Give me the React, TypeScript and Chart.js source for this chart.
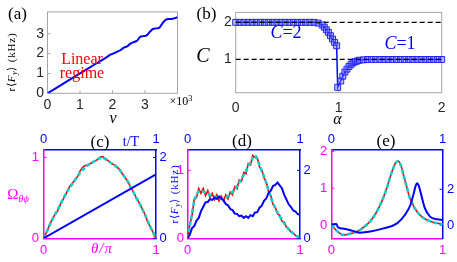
import React, { useEffect, useRef } from 'react';
import { Chart, registerables } from 'chart.js';

Chart.register(...registerables);

// ---------- data ----------
// (a) r<F_y> (kHz) vs nu (x10^3)
const aNu = [0, 0.5, 1.0, 1.5, 1.8, 1.95, 2.05, 2.15, 2.25, 2.35, 2.45, 2.55, 2.65, 2.75, 2.85, 2.95, 3.05, 3.15, 3.25, 3.35, 3.45, 3.55, 3.65, 3.75, 3.85, 3.95, 4.0];
const aF = [0, 0.5, 1.0, 1.5, 1.8, 1.96, 2.02, 2.1, 2.18, 2.3, 2.36, 2.5, 2.58, 2.64, 2.84, 2.88, 2.92, 3.1, 3.24, 3.27, 3.32, 3.55, 3.72, 3.74, 3.76, 3.8, 3.84];
const aXTicks = [0, 1, 2, 3];
const aYTicks = [0, 1, 2, 3];

// (b) Chern number C vs alpha
const bAlpha = [0, 0.04, 0.08, 0.12, 0.16, 0.2, 0.24, 0.28, 0.32, 0.36, 0.4, 0.44, 0.48, 0.52, 0.56, 0.6, 0.64, 0.68, 0.72, 0.76, 0.8, 0.84, 0.86, 0.88, 0.9, 0.92, 0.94, 0.96, 0.98, 0.99, 1.02, 1.04, 1.06, 1.08, 1.1, 1.12, 1.14, 1.16, 1.18, 1.2, 1.24, 1.28, 1.32, 1.36, 1.4, 1.44, 1.48, 1.52, 1.56, 1.6, 1.64, 1.68, 1.72, 1.76, 1.8, 1.84, 1.88, 1.92, 1.96, 2];
const bC = [2, 2, 2, 2, 2, 2, 2, 2, 2, 2, 2, 2, 2, 2, 2, 2, 2, 2, 2, 2, 1.98, 1.93, 1.87, 1.8, 1.73, 1.64, 1.55, 1.46, 1.37, 0.25, 0.42, 0.55, 0.66, 0.74, 0.81, 0.87, 0.91, 0.94, 0.96, 0.98, 0.99, 1, 1, 1, 1, 1, 1, 1, 1, 1, 1, 1, 1, 1, 1, 1, 1, 1, 1, 1];
const bRefLevels = [2, 1];
const bXTicks = [0, 1, 2];
const bYTicks = [1, 2];

// (c)
const cTheta = [0, 0.025, 0.05, 0.075, 0.1, 0.125, 0.15, 0.175, 0.2, 0.225, 0.25, 0.275, 0.3, 0.325, 0.35, 0.375, 0.4, 0.425, 0.45, 0.475, 0.5, 0.525, 0.55, 0.575, 0.6, 0.625, 0.65, 0.675, 0.7, 0.725, 0.75, 0.775, 0.8, 0.825, 0.85, 0.875, 0.9, 0.925, 0.95, 0.975, 1];
const cRed = [0, 0.07, 0.15, 0.23, 0.29, 0.34, 0.42, 0.48, 0.55, 0.62, 0.67, 0.71, 0.76, 0.83, 0.88, 0.9, 0.91, 0.93, 0.95, 0.97, 1.0, 1.01, 0.98, 0.96, 0.93, 0.91, 0.89, 0.85, 0.8, 0.75, 0.7, 0.63, 0.57, 0.5, 0.44, 0.37, 0.3, 0.21, 0.14, 0.07, 0];
const cCyan = [0, 0.07, 0.15, 0.22, 0.29, 0.35, 0.42, 0.49, 0.55, 0.61, 0.66, 0.71, 0.76, 0.81, 0.85, 0.88, 0.91, 0.93, 0.95, 0.97, 0.99, 1.0, 0.98, 0.96, 0.93, 0.91, 0.88, 0.85, 0.8, 0.75, 0.7, 0.63, 0.57, 0.5, 0.44, 0.37, 0.3, 0.22, 0.14, 0.07, 0];
const cT = [0, 1];
const cBlue = [0, 1.58];

// (d)
const dX = [0, 0.02, 0.04, 0.06, 0.08, 0.1, 0.12, 0.14, 0.16, 0.18, 0.2, 0.22, 0.24, 0.26, 0.28, 0.3, 0.32, 0.34, 0.36, 0.38, 0.4, 0.42, 0.44, 0.46, 0.48, 0.5, 0.52, 0.54, 0.56, 0.58, 0.6, 0.62, 0.64, 0.66, 0.68, 0.7, 0.72, 0.74, 0.76, 0.78, 0.8, 0.82, 0.84, 0.86, 0.88, 0.9, 0.92, 0.94, 0.96, 0.98, 1];
const dCyan = [0, 0.18, 0.37, 0.54, 0.64, 0.69, 0.7, 0.69, 0.67, 0.66, 0.64, 0.62, 0.61, 0.6, 0.59, 0.58, 0.59, 0.6, 0.62, 0.64, 0.68, 0.72, 0.77, 0.82, 0.88, 0.93, 0.99, 1.06, 1.12, 1.18, 1.22, 1.16, 1.08, 0.99, 0.91, 0.81, 0.71, 0.61, 0.52, 0.44, 0.38, 0.32, 0.27, 0.22, 0.17, 0.13, 0.1, 0.07, 0.05, 0.02, 0];
const dRed = [0, 0.2, 0.33, 0.58, 0.6, 0.73, 0.66, 0.73, 0.63, 0.7, 0.6, 0.66, 0.57, 0.64, 0.55, 0.62, 0.55, 0.64, 0.58, 0.68, 0.64, 0.76, 0.73, 0.86, 0.84, 0.97, 0.95, 1.1, 1.08, 1.22, 1.19, 1.19, 1.05, 1.01, 0.89, 0.83, 0.69, 0.63, 0.5, 0.46, 0.36, 0.34, 0.25, 0.24, 0.16, 0.14, 0.09, 0.08, 0.04, 0.03, 0];
const dBlue = [0, 0.1, 0.3, 0.36, 0.52, 0.6, 0.8, 0.93, 1.06, 1.07, 1.15, 1.13, 1.2, 1.16, 1.23, 1.17, 1.12, 1.01, 0.97, 0.86, 0.83, 0.73, 0.72, 0.65, 0.67, 0.6, 0.65, 0.6, 0.68, 0.65, 0.76, 0.77, 0.9, 0.96, 1.1, 1.17, 1.33, 1.4, 1.54, 1.57, 1.64, 1.56, 1.47, 1.28, 1.14, 1.0, 0.92, 0.82, 0.79, 0.71, 0.69];

// (e)
const eX = [0, 0.025, 0.05, 0.075, 0.1, 0.125, 0.15, 0.2, 0.25, 0.3, 0.35, 0.4, 0.45, 0.5, 0.525, 0.55, 0.575, 0.6, 0.625, 0.65, 0.675, 0.7, 0.725, 0.75, 0.8, 0.85, 0.9, 0.95, 1];
const eRC = [0, -0.08, -0.16, -0.22, -0.27, -0.27, -0.25, -0.21, -0.15, -0.04, 0.1, 0.32, 0.62, 1.02, 1.27, 1.5, 1.68, 1.74, 1.62, 1.34, 1.06, 0.78, 0.6, 0.45, 0.26, 0.15, 0.09, 0.05, 0.02];
const eBX = [0, 0.045, 0.06, 0.1, 0.165, 0.255, 0.35, 0.47, 0.59, 0.66, 0.71, 0.74, 0.755, 0.77, 0.785, 0.8, 0.84, 0.886, 0.95, 1];
const eB = [0.04, 0.05, -0.13, -0.2, -0.28, -0.43, -0.37, -0.19, 0.09, 0.56, 1.12, 1.77, 2.15, 2.34, 2.2, 1.87, 0.94, 0.47, 0.32, 0.28];

const unitTicks = [0, 1];

// ---------- styles ----------
const SERIF = '"Liberation Serif", "Times New Roman", serif';
const SANS = '"Liberation Sans", Arial, sans-serif';
const BLUE = '#0000ff';
const MAG = '#ff00ff';
const RED = '#ff0000';
const CYAN = '#00d2d2';
const GRAY = '#a6a6a6';
const DARK = '#262626';

type Pos = 'left' | 'right' | 'top' | 'bottom';
function axis(pos: Pos, min: number, max: number, ticks: number[], color: string, size: number, pad: number, font: number, border: boolean) {
  const horiz = pos === 'top' || pos === 'bottom';
  return {
    type: 'linear',
    axis: horiz ? 'x' : 'y',
    position: pos,
    min,
    max,
    bounds: 'data',
    afterBuildTicks: (s: any) => {
      s.ticks = ticks.map((v) => ({ value: v }));
    },
    afterFit: (s: any) => {
      if (horiz) s.height = size;
      else s.width = size;
    },
    grid: { display: false, drawTicks: false },
    border: { display: border, color, width: 1.5 },
    ticks: {
      color,
      padding: pad,
      font: { family: SANS, size: font },
      autoSkip: false,
      maxRotation: 0,
      minRotation: 0,
      callback: (v: any) => String(v),
    },
  };
}

function decor(frame: string | null, tickSets: { axis: string; values: number[]; color: string }[]) {
  return {
    id: 'decor',
    beforeDatasetsDraw(chart: any) {
      const { ctx, chartArea: a } = chart;
      ctx.save();
      if (frame) {
        ctx.strokeStyle = frame;
        ctx.lineWidth = 1;
        ctx.strokeRect(a.left, a.top, a.right - a.left, a.bottom - a.top);
      }
      for (const t of tickSets) {
        const s = chart.scales[t.axis];
        ctx.strokeStyle = t.color;
        ctx.lineWidth = 1;
        for (const v of t.values) {
          const p = s.getPixelForValue(v);
          ctx.beginPath();
          if (s.position === 'bottom') { ctx.moveTo(p, a.bottom); ctx.lineTo(p, a.bottom - 3); }
          else if (s.position === 'top') { ctx.moveTo(p, a.top); ctx.lineTo(p, a.top + 3); }
          else if (s.position === 'left') { ctx.moveTo(a.left, p); ctx.lineTo(a.left + 3, p); }
          else { ctx.moveTo(a.right, p); ctx.lineTo(a.right - 3, p); }
          ctx.stroke();
        }
      }
      ctx.restore();
    },
  };
}

const pts = (xs: number[], ys: number[]) => xs.map((x, i) => ({ x, y: ys[i] }));

function line(data: any[], color: string, width: number, extra: any = {}) {
  return { data, borderColor: color, backgroundColor: color, borderWidth: width, pointRadius: 0, fill: false, ...extra };
}

function config(padding: any, scales: any, datasets: any[], plugin: any): any {
  return {
    type: 'line',
    data: { datasets },
    options: {
      responsive: false,
      maintainAspectRatio: false,
      animation: false,
      devicePixelRatio: 1,
      events: [],
      layout: { padding },
      plugins: { legend: { display: false }, tooltip: { enabled: false } },
      scales,
    },
    plugins: [plugin],
  };
}

const T = ({ x, y, s, c = '#000', i = false, rot = 0, ls = 0, children }: any) => (
  <div
    style={{
      position: 'absolute',
      left: x,
      top: y,
      transform: `translate(-50%, -50%) rotate(${rot}deg)`,
      fontFamily: SERIF,
      fontSize: s,
      color: c,
      fontStyle: i ? 'italic' : 'normal',
      letterSpacing: ls,
      whiteSpace: 'nowrap',
      lineHeight: 1,
    }}
  >
    {children}
  </div>
);

const SUB = ({ children }: any) => <span style={{ fontSize: '0.7em', position: 'relative', top: '0.3em' }}>{children}</span>;
const SUP = ({ children }: any) => <span style={{ fontSize: '0.7em', position: 'relative', top: '-0.45em' }}>{children}</span>;

const LAYOUT = [
  { left: 8, top: 0, width: 182, height: 125 },
  { left: 200, top: 0, width: 257, height: 130 },
  { left: 0, top: 128, width: 180, height: 134 },
  { left: 165, top: 128, width: 160, height: 134 },
  { left: 305, top: 128, width: 152, height: 134 },
];

export default function App() {
  const r0 = useRef<HTMLCanvasElement>(null);
  const r1 = useRef<HTMLCanvasElement>(null);
  const r2 = useRef<HTMLCanvasElement>(null);
  const r3 = useRef<HTMLCanvasElement>(null);
  const r4 = useRef<HTMLCanvasElement>(null);
  const refs = [r0, r1, r2, r3, r4];

  useEffect(() => {
    const charts: Chart[] = [];

    // (a)
    charts.push(
      new Chart(
        r0.current!,
        config(
          { top: 4, right: 12.5, left: 0, bottom: 0 },
          {
            x: axis('bottom', 0, 4, aXTicks, DARK, 31.7, 3.3, 14, false),
            y: axis('left', 0, 4.1, aYTicks, DARK, 39.5, 3.5, 14, false),
          },
          [line(pts(aNu, aF), BLUE, 2, { cubicInterpolationMode: 'monotone' })],
          decor(GRAY, [
            { axis: 'x', values: [1, 2, 3], color: GRAY },
            { axis: 'y', values: [1, 2, 3], color: GRAY },
          ])
        )
      )
    );

    // (b)
    charts.push(
      new Chart(
        r1.current!,
        config(
          { top: 4, right: 15.3, left: 0, bottom: 0 },
          {
            x: axis('bottom', 0, 2, bXTicks, DARK, 37.3, 6.9, 14, false),
            y: axis('left', 0.105, 2.268, bYTicks, DARK, 35.7, 4, 14, false),
          },
          [
            line(pts([0, 2], [bRefLevels[0], bRefLevels[0]]), '#000', 1.3, { borderDash: [5, 3], order: 0 }),
            line(pts([0, 2], [bRefLevels[1], bRefLevels[1]]), '#000', 1.3, { borderDash: [5, 3], order: 0 }),
            line(pts(bAlpha, bC), BLUE, 1.5, {
              order: 1,
              clip: false,
              pointStyle: 'rect',
              pointRadius: 4.2,
              pointBorderWidth: 1,
              pointBorderColor: 'rgba(30,30,255,0.95)',
              pointBackgroundColor: 'rgba(110,110,255,0.45)',
            }),
          ],
          decor(GRAY, [
            { axis: 'x', values: [1], color: GRAY },
            { axis: 'y', values: [1, 2], color: GRAY },
          ])
        )
      )
    );

    // lower panel helper
    const lower = (
      ref: any,
      lw: number, rw: number,
      yMin: number, yMax: number, yTicks: number[], yPad: number,
      y2Min: number, y2Max: number, y2Ticks: number[], y2Pad: number,
      datasets: any[]
    ) =>
      new Chart(
        ref.current!,
        config(
          { top: 0, right: 0, left: 0, bottom: 0 },
          {
            x: axis('bottom', 0, 1, unitTicks, MAG, 23.7, 3.9, 13, true),
            x2: axis('top', 0, 1, unitTicks, BLUE, 21.3, 2.5, 13, true),
            y: axis('left', yMin, yMax, yTicks, MAG, lw, yPad, 13, true),
            y2: axis('right', y2Min, y2Max, y2Ticks, BLUE, rw, y2Pad, 13, true),
          },
          datasets,
          decor(null, [
            { axis: 'y', values: yTicks, color: MAG },
            { axis: 'y2', values: y2Ticks, color: BLUE },
          ])
        )
      );

    // (c)
    charts.push(
      lower(r2, 43.5, 24, 0, 1.1, [0, 1], 4.5, 0, 2.2, [0, 2], 3.5, [
        line(pts(cT, cBlue), BLUE, 2, { xAxisID: 'x2', yAxisID: 'y2', order: 0 }),
        line(pts(cTheta, cCyan), CYAN, 2.6, { borderDash: [4, 2.5], order: 1, cubicInterpolationMode: 'monotone' }),
        line(pts(cTheta, cRed), RED, 1.6, { order: 2, cubicInterpolationMode: 'monotone' }),
      ])
    );

    // (d)
    charts.push(
      lower(r3, 22.5, 25, 0, 1.31, [0, 1], 3.5, 0, 2.62, [0, 2], 3.5, [
        line(pts(dX, dBlue), BLUE, 2, { xAxisID: 'x2', yAxisID: 'y2', order: 0 }),
        line(pts(dX, dCyan), CYAN, 2.6, { borderDash: [4, 2.5], order: 1, cubicInterpolationMode: 'monotone' }),
        line(pts(dX, dRed), RED, 1.6, { order: 2 }),
      ])
    );

    // (e)
    charts.push(
      lower(r4, 26.3, 14.3, -0.362, 2.06, [0, 1, 2], 4, -0.745, 4.24, [0, 2], 4.3, [
        line(pts(eBX, eB), BLUE, 2, { xAxisID: 'x2', yAxisID: 'y2', order: 0, cubicInterpolationMode: 'monotone' }),
        line(pts(eX, eRC), CYAN, 2.6, { borderDash: [4, 2.5], order: 1, cubicInterpolationMode: 'monotone' }),
        line(pts(eX, eRC), RED, 1.6, { order: 2, cubicInterpolationMode: 'monotone' }),
      ])
    );

    return () => charts.forEach((c) => c.destroy());
  }, []);

  return (
    <div style={{ position: 'absolute', left: 0, top: 0, width: 457, height: 262, background: '#fff', overflow: 'hidden' }}>
      {LAYOUT.map((l, k) => (
        <canvas
          key={k}
          ref={refs[k]}
          width={l.width}
          height={l.height}
          style={{ position: 'absolute', left: l.left, top: l.top, width: l.width, height: l.height }}
        />
      ))}
      <T x={17.5} y={13} s={17}>(a)</T>
      <T x={206.5} y={13} s={17}>(b)</T>
      <T x={203} y={55} s={20} i>C</T>
      <T x={11} y={62} s={11} rot={-90} ls={0.8}>r⟨<i>F</i><SUB><i>y</i></SUB>⟩ (kHz)</T>
      <T x={113} y={118} s={16} i>ν</T>
      <T x={181} y={101} s={12}>×10<SUP>3</SUP></T>
      <T x={82} y={59} s={16} c={RED}>Linear</T>
      <T x={82} y={73} s={16} c={RED}>regime</T>
      <T x={337.5} y={119} s={16} i>α</T>
      <T x={286} y={32} s={18} c={BLUE}><i>C</i>=2</T>
      <T x={400} y={43} s={18} c={BLUE}><i>C</i>=1</T>
      <T x={100} y={141} s={17}>(c)</T>
      <T x={242} y={140} s={17}>(d)</T>
      <T x={386} y={140} s={17}>(e)</T>
      <T x={131} y={142} s={14} c={BLUE}>t/T</T>
      <T x={18} y={194} s={15} c={MAG}>Ω<SUB><i>θϕ</i></SUB></T>
      <T x={102} y={248} s={15} c={MAG} i ls={1}>θ/π</T>
      <T x={173.5} y={193.5} s={11} rot={-90} c={BLUE} ls={0.8}>r⟨<i>F</i><SUB><i>y</i></SUB>⟩ (kHz)</T>
    </div>
  );
}
